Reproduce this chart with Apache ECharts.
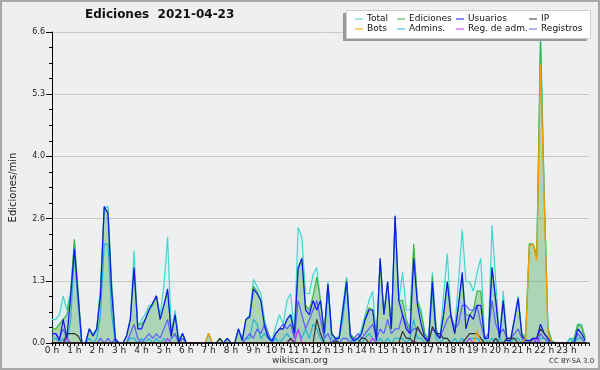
<!DOCTYPE html>
<html><head><meta charset="utf-8">
<script src="https://cdn.jsdelivr.net/npm/echarts@6/dist/echarts.min.js"></script>
<style>html,body{margin:0;padding:0;background:#eeeff0}#c{width:600px;height:370px}</style>
</head><body><div id="c"></div>
<script>
// 10-minute slots, 6 per hour, 144 per day
const hourLabels = ['0 h','1 h','2 h','3 h','4 h','5 h','6 h','7 h','8 h','9 h','10 h','11 h','12 h','13 h','14 h','15 h','16 h','17 h','18 h','19 h','20 h','21 h','22 h','23 h'];
const yTicks = [0, 1.32, 2.64, 3.96, 5.28, 6.6];

const total = [
 0.5,0.5,0.6,1.0,0.7,1.1,  2.15,1.0,0,0,0.3,0.2,  0.3,1.2,2.85,2.9,1.3,0.1,  0,0,0.15,0.5,1.95,0.3,
 0.5,0.6,0.8,0.8,1.0,0.6,  1.2,2.25,0.2,0.7,0.1,0.2,  0,0,0,0,0,0,  0.2,0,0,0.1,0,0.1,
 0,0,0.3,0.1,0.5,0.6,  1.35,1.2,1.05,0.5,0.2,0.05,  0.35,0.6,0.4,0.9,1.05,0.2,  2.45,2.25,1.05,1.05,1.45,1.6,
 0.9,0.2,1.3,0.2,0.1,0.15,  0.8,1.4,0.2,0.1,0.1,0.3,  0.6,0.9,1.1,0.1,1.8,0.6,  1.3,0.3,2.7,0.9,1.5,0.7,
 0.7,2.0,0.9,0.7,0.2,0.1,  1.5,0.3,0.1,1.0,1.9,0.6,  0.3,1.3,2.4,1.3,1.3,1.1,  1.5,1.8,0.1,0.15,2.5,1.3,
 0.1,1.1,0.1,0.1,0.5,1.0,  0.2,0.15,2.1,2.1,1.85,6.6,  3.2,0.3,0.05,0,0,0,  0,0.1,0.1,0.4,0.4,0.1];
const ediciones = [
 0.3,0.3,0.4,0.5,0.6,1.0,  2.2,1.1,0,0,0.3,0.15,  0.3,1.1,2.85,2.8,1.2,0.1,  0,0,0.15,0.5,1.6,0.4,
 0.4,0.5,0.7,0.8,1.0,0.5,  0.8,1.1,0.2,0.6,0.05,0.2,  0,0,0,0,0,0,  0.2,0,0,0.1,0,0.1,
 0,0,0.3,0.05,0.5,0.55,  1.2,1.1,0.9,0.4,0.15,0,  0.2,0.3,0.3,0.5,0.6,0.15,  1.55,1.75,0.8,0.7,1.0,1.4,
 0.9,0.2,1.25,0.2,0.1,0.1,  0.7,1.35,0.2,0.1,0.1,0.2,  0.55,0.75,0.7,0.05,1.75,0.6,  1.3,0.3,2.65,0.9,0.9,0.5,
 0.3,2.1,0.9,0.6,0.2,0.05,  1.4,0.3,0.1,0.6,1.3,0.6,  0.2,0.8,1.4,0.6,0.6,0.7,  1.1,1.1,0.1,0.1,1.6,0.9,
 0.1,0.9,0.05,0.1,0.5,0.95,  0.2,0.1,2.1,2.1,1.85,6.4,  3.1,0.3,0.05,0,0,0,  0,0,0.1,0.4,0.35,0.1];
const usuarios = [
 0.2,0.2,0.05,0.5,0.1,1.0,  2.0,1.0,0,0,0.3,0.15,  0.3,1.0,2.9,2.75,1.1,0.05,  0,0,0.15,0.5,1.6,0.3,
 0.3,0.5,0.7,0.85,1.0,0.5,  0.8,1.15,0.15,0.6,0,0.2,  0,0,0,0,0,0,  0,0,0,0,0,0.1,
 0,0,0.3,0.05,0.5,0.55,  1.15,1.05,0.9,0.35,0.1,0.05,  0.2,0.3,0.3,0.5,0.6,0.2,  1.6,1.8,0.7,0.6,0.9,0.7,
 0.9,0.2,1.25,0.2,0.1,0.1,  0.7,1.3,0.15,0.05,0.1,0.2,  0.5,0.7,0.7,0.05,1.8,0.6,  1.3,0.3,2.7,0.9,0.6,0.3,
 0.2,1.8,0.8,0.4,0.1,0.05,  1.3,0.2,0.1,0.6,1.3,0.55,  0.2,0.8,1.5,0.3,0.6,0.5,  0.8,0.8,0.1,0.1,1.6,0.9,
 0.1,0.9,0.05,0.05,0.5,0.95,  0.15,0.05,0.05,0.1,0.1,0.4,  0.2,0.1,0,0,0,0,  0,0,0,0.3,0.2,0.05];
const ip = [
 0,0,0,0,0.2,0.2,  0.2,0.15,0,0,0,0,  0,0,0,0,0,0,  0,0,0,0,0,0,
 0,0,0,0,0,0,  0,0,0,0,0,0,  0,0,0,0,0,0,  0,0,0,0.1,0,0,
 0,0,0,0,0,0,  0,0,0,0,0,0,  0,0,0,0,0.1,0,  0,0,0,0,0,0.5,
 0.2,0,0,0,0.05,0,  0,0,0,0,0,0.1,  0.1,0,0,0,0,0,  0,0,0,0,0.25,0.1,
 0.1,0,0.35,0.2,0.1,0,  0.35,0.2,0.2,0.1,0.1,0,  0,0,0,0.1,0.2,0.2,  0.2,0.1,0,0,0,0.1,
 0,0,0.1,0.1,0.1,0,  0,0,0,0.1,0.1,0.3,  0.2,0.1,0,0,0,0,  0,0,0,0,0,0];
const bots = [
 0,0,0,0,0,0,  0,0,0,0,0,0,  0,0,0,0,0,0,  0,0,0,0,0,0,
 0,0,0,0,0,0,  0,0,0,0,0,0,  0,0,0,0,0,0,  0.2,0,0,0,0,0,
 0,0,0,0,0,0,  0,0,0,0,0,0,  0,0,0,0,0,0,  0,0,0,0,0,0,
 0,0,0,0,0,0,  0,0,0,0,0,0,  0,0,0,0,0,0,  0,0,0,0,0,0,
 0,0,0,0,0,0,  0,0,0,0,0,0,  0,0,0,0,0,0,  0.25,0,0,0,0,0,
 0,0,0,0,0,0,  0,0.1,2.05,2.1,1.75,5.9,  3.0,0.2,0,0,0,0,  0,0,0,0,0,0];
const admins = [
 0.1,0.1,0,0.1,0,0.5,  1.9,0.8,0,0,0.1,0,  0.1,0.6,2.1,2.1,0.6,0,  0,0,0,0.1,0.1,0,
 0.1,0,0.1,0,0.1,0,  0.1,0,0.1,0.2,0,0,  0,0,0,0,0,0,  0,0,0,0,0,0,
 0,0,0,0,0.1,0.1,  0.5,0.4,0.1,0.2,0.1,0,  0.1,0,0.1,0.2,0.1,0,  0.3,0.1,0.3,0.1,0.4,0.3,
 0.1,0,1.2,0.1,0,0.1,  0.5,1.3,0.1,0,0.1,0,  0.1,0.2,0.1,0,0.1,0,  0.1,0,0.1,0.1,0.1,0,
 0.1,0.5,0.1,0.1,0,0.1,  1.1,0.1,0,0.1,0.1,0,  0.1,0,0.1,0,0.1,0.1,  0.1,0,0.1,0,0.1,0,
 0.1,0,0.1,0,0.1,0.1,  0,0.1,0,0.1,0,0.1,  0.1,0,0,0,0,0,  0,0.1,0,0.1,0.1,0];
const regAdm = [
 0,0,0,0,0.1,0,  0,0,0,0,0,0,  0,0,0,0,0,0,  0,0,0,0,0,0,
 0,0,0,0,0,0,  0,0.1,0,0,0,0,  0,0,0,0,0,0,  0,0,0,0,0,0,
 0,0,0,0,0,0,  0,0,0,0,0,0,  0,0,0,0,0.1,0,  0.3,0,0,0,0,0,
 0,0,0,0,0,0,  0,0,0,0,0,0,  0,0,0.1,0,0,0,  0,0,0,0,0,0,
 0,0.05,0,0,0,0,  0,0,0,0,0,0,  0,0,0,0,0.1,0,  0,0,0,0,0,0,
 0,0,0,0,0,0,  0,0,0,0,0.1,0,  0,0,0,0,0,0,  0,0,0,0,0,0];
const registros = [
 0.2,0.2,0.1,0.3,0.1,0,  0,0,0,0,0,0,  0,0.1,0,0.1,0,0.1,  0,0,0,0.2,0.4,0.1,
 0,0.1,0.2,0.1,0.2,0.1,  0.3,0.5,0.1,0.2,0,0.1,  0,0,0,0,0,0,  0,0,0,0,0,0,
 0,0,0,0,0.1,0.2,  0.1,0.3,0.2,0.4,0.2,0,  0.2,0.3,0.4,0.3,0.4,0.1,  0.9,0.6,0.3,0.5,0.7,0.9,
 0.5,0.1,0.2,0,0.1,0,  0.1,0.1,0,0.1,0.2,0.1,  0.2,0.3,0.4,0.1,0.3,0.2,  0.5,0.2,0.3,0.3,0.6,0.4,
 0.2,0.3,0.3,0.2,0.1,0.1,  0.3,0.2,0.1,0.3,0.5,0.6,  0.3,0.4,0.8,0.8,0.7,0.7,  0.8,0.4,0.1,0.2,0.9,0.4,
 0.2,0.3,0.1,0.1,0.2,0.3,  0.1,0,0,0.1,0,0.2,  0.1,0.05,0,0,0,0,  0,0,0,0.2,0.1,0];

const FONT = 'DejaVu Sans';
const pts = a => a.map((v, i) => [i, v]);
function line(name, data, color, extra) {
  return Object.assign({
    name, type: 'line', data: pts(data), symbol: 'none', showSymbol: false,
    lineStyle: { color, width: 1.2 }, itemStyle: { color }, animation: false
  }, extra || {});
}

const chart = echarts.init(document.getElementById('c'), null, { renderer: 'canvas' });
const legendBase = {
  orient: 'vertical', top: 14, padding: 0, itemGap: 0, itemWidth: 8, itemHeight: 1,
  icon: 'rect', selectedMode: false,
  textStyle: { fontFamily: FONT, fontSize: 9, color: '#111', lineHeight: 10, padding: [0, 0, 0, -1] }
};
chart.setOption({
  backgroundColor: '#eeeff0',
  animation: false,
  title: {
    text: 'Ediciones  2021-04-23', left: 85, top: 9, padding: 0,
    textStyle: { fontFamily: FONT, fontSize: 12, fontWeight: 'bold', color: '#111' }
  },
  graphic: [
    { type: 'rect', shape: { x: 1, y: 1, width: 598, height: 368 }, style: { fill: 'none', stroke: '#a8a8a8', lineWidth: 2 }, z: 100 },
    { type: 'rect', shape: { x: 343, y: 13, width: 244, height: 28 }, style: { fill: '#999999' }, z: 50 },
    { type: 'rect', shape: { x: 346.5, y: 10.5, width: 244, height: 28 }, style: { fill: '#ffffff', stroke: '#cfcfcf', lineWidth: 1 }, z: 51 },
    { type: 'text', left: 'center', top: 356, style: { text: 'wikiscan.org', fontFamily: FONT, fontSize: 9, fill: '#333' }, z: 60 },
    { type: 'text', left: 549, top: 358, style: { text: 'CC BY-SA 3.0', fontFamily: FONT, fontSize: 7, fill: '#333' }, z: 60 }
  ],
  legend: [
    Object.assign({}, legendBase, { left: 355, data: ['Total', 'Bots'], z: 60 }),
    Object.assign({}, legendBase, { left: 397, data: ['Ediciones', 'Admins.'], z: 60 }),
    Object.assign({}, legendBase, { left: 456, data: ['Usuarios', 'Reg. de adm.'], z: 60 }),
    Object.assign({}, legendBase, { left: 529, data: ['IP', 'Registros'], z: 60 })
  ],
  grid: { left: 46, right: 11, top: 32, bottom: 27, containLabel: false },
  xAxis: {
    type: 'value', min: 0, max: 144, interval: 6, z: 10,
    axisLine: { show: true, onZero: false, lineStyle: { color: '#000', width: 1.5 } },
    axisTick: { show: true, length: 3, lineStyle: { color: '#000' } },
    minorTick: { show: true, splitNumber: 6, length: 3, lineStyle: { color: '#000' } },
    splitLine: { show: false },
    axisLabel: {
      margin: 3, fontFamily: FONT, fontSize: 9, color: '#222',
      formatter: v => (v < 144 ? hourLabels[Math.round(v / 6)] : '')
    }
  },
  yAxis: {
    type: 'value', min: 0, max: 6.6, interval: 1.32,
    name: 'Ediciones/min', nameLocation: 'middle', nameGap: 34,
    nameTextStyle: { fontFamily: FONT, fontSize: 10, color: '#222' },
    axisLine: { show: true, lineStyle: { color: '#000', width: 1 } },
    axisTick: { show: true, length: 6, lineStyle: { color: '#000' } },
    minorTick: { show: true, splitNumber: 4, length: 3, lineStyle: { color: '#000' } },
    splitLine: { show: true, lineStyle: { color: '#c9c9c9', width: 1 } },
    axisLabel: {
      margin: 7, fontFamily: FONT, fontSize: 8, color: '#222',
      formatter: v => {
        const t = yTicks.find(x => Math.abs(x - v) < 1e-6);
        return (t !== undefined ? t : v).toFixed(1);
      }
    }
  },
  series: [
    line('Total', total, '#3fd8cc', { areaStyle: { color: 'rgba(120,230,220,0.18)' } }),
    line('Ediciones', ediciones, '#3db53d', { areaStyle: { color: 'rgba(60,160,60,0.45)' } }),
    line('Admins.', admins, '#1fb4dc'),
    line('Registros', registros, '#5c5cff', { areaStyle: { color: 'rgba(90,90,255,0.08)' } }),
    line('Reg. de adm.', regAdm, '#cc33ff'),
    line('IP', ip, '#333333'),
    line('Usuarios', usuarios, '#1414ee'),
    line('Bots', bots, '#ff9a00')
  ]
});
</script></body></html>
